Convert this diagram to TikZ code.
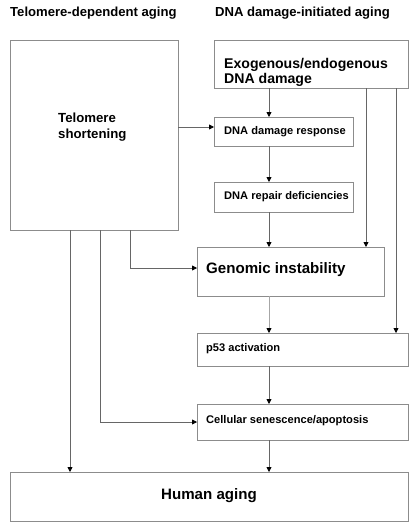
\documentclass[tikz,border=0pt]{standalone}
\usepackage{fontspec}
\setmainfont{Liberation Sans}
\usetikzlibrary{arrows.meta}
\begin{document}
\begin{tikzpicture}[x=1pt,y=-1pt,
  box/.style={draw=black!45,line width=0.9pt,fill=white},
  conn/.style={draw=black!60,line width=0.8pt,-{Triangle[length=5pt,width=5pt,black]}},
  lbl/.style={anchor=west,inner sep=0pt,font=\bfseries\fontsize{11.1}{13}\selectfont},
  big/.style={inner sep=0pt,font=\bfseries\fontsize{15.1}{18}\selectfont},
  ttl/.style={inner sep=0pt,anchor=west,font=\bfseries\fontsize{13.1}{15}\selectfont},
  mid/.style={inner sep=0pt,anchor=west,align=left,font=\bfseries\fontsize{13.2}{16}\selectfont},
  exo/.style={inner sep=0pt,anchor=west,align=left,font=\bfseries\fontsize{14.1}{15.5}\selectfont}]
\useasboundingbox (0,0) rectangle (415,528);
% titles
\node[ttl] (t1) at (10,13) {Telomere-dependent aging};
\node[ttl] (t2) at (215,13) {DNA damage-initiated aging};
% boxes
\draw[box] (10,40) rectangle (178,230);
\coordinate (telR) at (178,127);
\node[mid] (tel) at (58,127) {Telomere\\shortening};
\draw[box] (214,40) rectangle (408,88);
\node[exo] (exo) at (224,72.5) {Exogenous/endogenous\\DNA damage};
\draw[box] (214,117) rectangle (353,146);
\node[lbl] (ddr) at (224,132) {DNA damage response};
\draw[box] (214,182) rectangle (353,212);
\node[lbl] (rep) at (224,197) {DNA repair deficiencies};
\draw[box] (197,247) rectangle (384,296);
\node[big,anchor=west] (gen) at (206,270) {Genomic instability};
\draw[box] (197,333) rectangle (408,366);
\node[lbl] (p53) at (206,349) {p53 activation};
\draw[box] (197,404) rectangle (408,440);
\node[lbl] (cell) at (206,421) {Cellular senescence/apoptosis};
\draw[box] (10,472) rectangle (408,521);
\node[big] (hum) at (209,496) {Human aging};
% coordinates for connectors
\coordinate (a1) at (269,88);  \coordinate (a2) at (269,117);
\coordinate (b1) at (269,146); \coordinate (b2) at (269,182);
\coordinate (c1) at (269,212); \coordinate (c2) at (269,247);
\coordinate (d1) at (269,296); \coordinate (d2) at (269,333);
\coordinate (e1) at (269,366); \coordinate (e2) at (269,404);
\coordinate (f1) at (269,440); \coordinate (f2) at (269,472);
\coordinate (g1) at (366,88);  \coordinate (g2) at (366,247);
\coordinate (h1) at (396,88);  \coordinate (h2) at (396,333);
\coordinate (i1) at (130,230); \coordinate (i2) at (197,268);
\coordinate (j1) at (100,230); \coordinate (j2) at (197,422);
\coordinate (k1) at (70,230);  \coordinate (k2) at (70,472);
\coordinate (ddrL) at (214,127);
% connectors
\draw[conn] (a1) -- (a2);
\draw[conn] (b1) -- (b2);
\draw[conn] (c1) -- (c2);
\draw[conn,draw=black!35] (d1) -- (d2);
\draw[conn] (e1) -- (e2);
\draw[conn] (f1) -- (f2);
\draw[conn] (g1) -- (g2);
\draw[conn] (h1) -- (h2);
\draw[conn] (telR) -- (ddrL);
\draw[conn] (i1) |- (i2);
\draw[conn] (j1) |- (j2);
\draw[conn] (k1) -- (k2);
\end{tikzpicture}
\end{document}
